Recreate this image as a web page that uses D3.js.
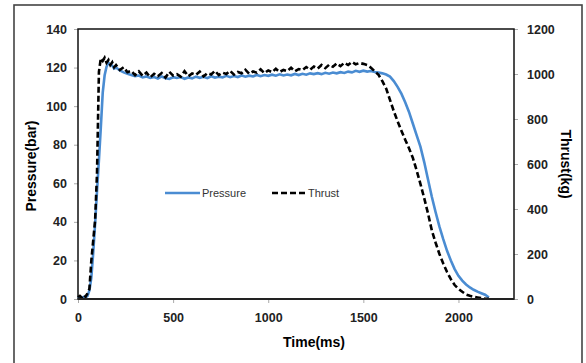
<!DOCTYPE html>
<html>
<head>
<meta charset="utf-8">
<script src="https://cdn.jsdelivr.net/npm/d3@7"></script>
<style>
  body { margin: 0; background: #fff; }
  svg { display: block; font-family: "Liberation Sans", Arial, sans-serif; }
</style>
</head>
<body>
<div id="wrapper"></div>
<script>
// time (ms), rows of 10
const timeMs = [
  0, 10, 20, 30, 40, 50, 60, 70, 80, 90,
  100, 110, 120, 130, 140, 150, 160, 170, 180, 190,
  200, 220, 240, 260, 280, 300, 320, 340, 360, 380,
  400, 420, 440, 460, 480, 500, 520, 540, 560, 580,
  600, 620, 640, 660, 680, 700, 720, 740, 760, 780,
  800, 820, 840, 860, 880, 900, 920, 940, 960, 980,
  1000, 1020, 1040, 1060, 1080, 1100, 1120, 1140, 1160, 1180,
  1200, 1220, 1240, 1260, 1280, 1300, 1320, 1340, 1360, 1380,
  1400, 1420, 1440, 1460, 1480, 1500, 1520, 1540, 1560, 1580,
  1600, 1620, 1640, 1660, 1680, 1700, 1720, 1740, 1760, 1780,
  1800, 1820, 1840, 1860, 1880, 1900, 1920, 1940, 1960, 1980,
  2000, 2020, 2040, 2060, 2080, 2100, 2120, 2140, 2160
];

// pressure (bar)
const pressure = [
  0.4, 0.8, 0.6, 1.1, 0.9, 1.6, 4.5, 11, 24, 39,
  56, 72, 89, 107, 116, 120.5, 122.5, 121.5, 121, 119.5,
  120, 118.5, 117.5, 116.8, 116.2, 115.6, 115.9, 114.9, 115.4, 114.6,
  115.1, 114.3, 115.4, 114.5, 114.1, 115, 114.6, 115.1, 114.2, 114.9,
  114.4, 115.3, 114.7, 115.2, 114.5, 115.5, 114.8, 115.2, 114.9, 115.7,
  115, 115.6, 115.1, 115.9, 115.3, 115.8, 115.4, 116.2, 115.5, 116.1,
  115.7, 116.3, 115.8, 116.5, 115.9, 116.4, 116, 116.7, 116.1, 116.8,
  116.3, 117, 116.6, 117.1, 116.6, 117.3, 116.8, 117.4, 117, 117.6,
  117.2, 117.9, 117.5, 118.3, 117.8, 118.4, 117.9, 118.2, 117.7, 117.4,
  117, 116.4, 115.3, 113, 110, 106.5, 102, 97, 91, 85,
  79, 71, 62, 53, 45, 37.5, 31, 25, 20, 15.5,
  12, 9.5, 7.5, 6, 4.8, 3.8, 3, 2.2, 0.8
];

// thrust (kg)
const thrust = [
  8, 14, 6, 18, 10, 25, 45, 170, 260, 350,
  560, 1010, 1070, 1058, 1072, 1050, 1062, 1040, 1052, 1030,
  1040, 1018, 1030, 1008, 1014, 995, 1012, 992, 1006, 985,
  1001, 990, 1004, 984, 1010, 993, 999, 988, 1012, 990,
  1002, 996, 1011, 989, 1004, 998, 1014, 995, 1006, 1000,
  1014, 997, 1009, 1003, 1019, 1001, 1011, 1006, 1021, 1004,
  1016, 1008, 1023, 1009, 1018, 1013, 1028, 1012, 1022, 1017,
  1031, 1019, 1033, 1024, 1040, 1026, 1041, 1032, 1047, 1035,
  1050, 1040, 1054, 1043, 1049, 1045, 1040, 1028, 1012, 996,
  968, 935, 885, 835, 790, 748, 708, 670, 628, 572,
  512, 448, 380, 305, 250, 200, 158, 120, 88, 62,
  45, 32, 20, 14, 10, 7, 4, 2, 1
];

const xTicks = [0, 500, 1000, 1500, 2000];
const pressureTicks = [0, 20, 40, 60, 80, 100, 120, 140];
const thrustTicks = [0, 200, 400, 600, 800, 1000, 1200];

const dataset = timeMs.map((t, i) => ({ t, p: pressure[i], f: thrust[i] }));

const width = 586;
let dimensions = {
  width: width,
  height: 363,
  margin: { top: 29, right: 72, bottom: 64, left: 78 },
};
dimensions.boundedWidth =
  dimensions.width - dimensions.margin.left - dimensions.margin.right;
dimensions.boundedHeight =
  dimensions.height - dimensions.margin.top - dimensions.margin.bottom;

const wrapper = d3
  .select("#wrapper")
  .append("svg")
  .attr("width", dimensions.width)
  .attr("height", dimensions.height);

// outer frame
wrapper
  .append("rect")
  .attr("x", 14)
  .attr("y", 5)
  .attr("width", 568)
  .attr("height", 362)
  .attr("fill", "none")
  .attr("stroke", "#444")
  .attr("stroke-width", 1.6);

const bounds = wrapper
  .append("g")
  .attr("transform", `translate(${dimensions.margin.left},${dimensions.margin.top})`);

const xScale = d3.scaleLinear().domain([0, 2292]).range([0, dimensions.boundedWidth]);
const yLeft = d3.scaleLinear().domain([0, 140]).range([dimensions.boundedHeight, 0]);
const yRight = d3.scaleLinear().domain([0, 1200]).range([dimensions.boundedHeight, 0]);

// axes
function styleAxis(g) {
  g.select(".domain").remove();
  g.selectAll(".tick line").attr("stroke", "#aaa");
  g.selectAll(".tick text")
    .attr("fill", "#222")
    .style("font-size", "12.5px")
    .style("font-weight", "bold");
}

const fmt = d3.format("d");

bounds
  .append("g")
  .attr("transform", `translate(0,${dimensions.boundedHeight})`)
  .call(d3.axisBottom(xScale).tickValues(xTicks).tickFormat(fmt).tickSize(4).tickPadding(10))
  .call(styleAxis);

bounds
  .append("g")
  .call(d3.axisLeft(yLeft).tickValues(pressureTicks).tickFormat(fmt).tickSize(4).tickPadding(7))
  .call(styleAxis);

bounds
  .append("g")
  .attr("transform", `translate(${dimensions.boundedWidth},0)`)
  .call(d3.axisRight(yRight).tickValues(thrustTicks).tickFormat(fmt).tickSize(4).tickPadding(9))
  .call(styleAxis);

// plot frame
bounds
  .append("rect")
  .attr("width", dimensions.boundedWidth)
  .attr("height", dimensions.boundedHeight)
  .attr("fill", "none")
  .attr("stroke", "#111")
  .attr("stroke-width", 1.5);

// lines
const pressureLine = d3.line().x((d) => xScale(d.t)).y((d) => yLeft(d.p));
const thrustLine = d3.line().x((d) => xScale(d.t)).y((d) => yRight(d.f));

bounds
  .append("path")
  .datum(dataset)
  .attr("d", pressureLine)
  .attr("fill", "none")
  .attr("stroke", "#4a8cd2")
  .attr("stroke-width", 2.6);

bounds
  .append("path")
  .datum(dataset)
  .attr("d", thrustLine)
  .attr("fill", "none")
  .attr("stroke", "#000")
  .attr("stroke-width", 2.6)
  .attr("stroke-dasharray", "6 3");

// bottom axis line drawn over curves
bounds
  .append("line")
  .attr("x1", 0)
  .attr("x2", dimensions.boundedWidth)
  .attr("y1", dimensions.boundedHeight)
  .attr("y2", dimensions.boundedHeight)
  .attr("stroke", "#222")
  .attr("stroke-width", 2);

// axis titles
wrapper
  .append("text")
  .attr("x", 314)
  .attr("y", 347)
  .attr("text-anchor", "middle")
  .style("font-size", "14px")
  .style("font-weight", "bold")
  .text("Time(ms)");

wrapper
  .append("text")
  .attr("transform", "translate(36,166) rotate(-90)")
  .attr("text-anchor", "middle")
  .style("font-size", "14px")
  .style("font-weight", "bold")
  .text("Pressure(bar)");

wrapper
  .append("text")
  .attr("transform", "translate(561,164) rotate(90)")
  .attr("text-anchor", "middle")
  .style("font-size", "14px")
  .style("font-weight", "bold")
  .text("Thrust(kg)");

// legend
const legend = wrapper.append("g");
legend
  .append("line")
  .attr("x1", 165).attr("x2", 200).attr("y1", 193).attr("y2", 193)
  .attr("stroke", "#4a8cd2").attr("stroke-width", 2.6);
legend
  .append("text")
  .attr("x", 202).attr("y", 197)
  .style("font-size", "11px").attr("fill", "#333")
  .text("Pressure");
legend
  .append("line")
  .attr("x1", 272).attr("x2", 307).attr("y1", 193).attr("y2", 193)
  .attr("stroke", "#000").attr("stroke-width", 2.6).attr("stroke-dasharray", "6 3");
legend
  .append("text")
  .attr("x", 308).attr("y", 197)
  .style("font-size", "11px").attr("fill", "#333")
  .text("Thrust");
</script>
</body>
</html>
